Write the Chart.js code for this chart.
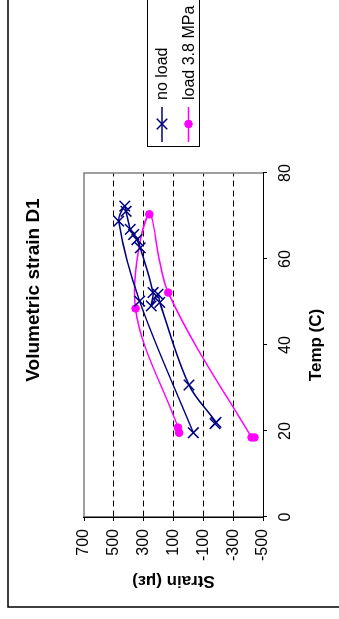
<!DOCTYPE html>
<html>
<head>
<meta charset="utf-8">
<script src="https://cdn.jsdelivr.net/npm/chart.js@4.4.1/dist/chart.umd.min.js"></script>
<style>
  html, body { margin: 0; padding: 0; background: #fff; overflow: hidden; }
  /* the chart is laid out landscape and turned a quarter turn counter-clockwise */
  #frame {
    position: absolute; left: 0; top: 0;
    width: 619px; height: 339px;
    transform-origin: 0 0;
    transform: translateY(619px) rotate(-90deg);
  }
</style>
</head>
<body>
<div id="frame"><canvas id="c" width="619" height="339"></canvas></div>
<script>
// ---- chart content ----
const TITLE = 'Volumetric strain D1';
const X_TITLE = 'Temp (C)';
const Y_TITLE = 'Strain (με)';
const SERIES_NAMES = ['no load', 'load 3.8 MPa'];

// temperature (°C) and volumetric strain (microstrain), in logging order
const noLoadTemp   = [21.7, 22.0, 30.7, 49.9, 51.8, 49.1, 52.2, 62.6, 64.5, 65.7, 66.9, 71.1, 72.3, 68.8, 50.2, 19.6];
const noLoadStrain = [-178, -185, -4, 192, 204, 249, 237, 323, 345, 367, 390, 418, 427, 467, 327, -33];

const loadTemp   = [19.6, 20.8, 48.5, 70.4, 52.2, 18.5, 18.5];
const loadStrain = [62, 70, 354, 262, 135, -423, -443];

// axis ranges / tick steps
const tempTicks   = [0, 20, 40, 60, 80];
const strainTicks = [700, 500, 300, 100, -100, -300, -500];

const FONT = "'Liberation Sans', Arial, Helvetica, sans-serif";
Chart.defaults.font.family = FONT;
Chart.defaults.color = '#000';

const toPoints = (xs, ys) => xs.map((x, i) => ({ x: x, y: ys[i] }));

const tStep = tempTicks[1] - tempTicks[0];
const sStep = strainTicks[0] - strainTicks[1];
const sMax = Math.max(...strainTicks), sMin = Math.min(...strainTicks);

// frame, plot border, title and legend
const decorations = {
  id: 'decorations',
  beforeDatasetsDraw(chart) {
    const { ctx, chartArea: a } = chart;
    ctx.save();
    ctx.strokeStyle = '#808080';
    ctx.lineWidth = 1.5;
    ctx.beginPath();
    ctx.moveTo(a.left, a.top);
    ctx.lineTo(a.right, a.top);
    ctx.lineTo(a.right, a.bottom);
    ctx.stroke();
    ctx.restore();
  },
  afterDraw(chart) {
    const { ctx } = chart;
    ctx.save();
    // outer chart frame
    ctx.strokeStyle = '#000';
    ctx.lineWidth = 1.5;
    ctx.strokeRect(12, 8, 700, 420);

    // title
    ctx.fillStyle = '#000';
    ctx.font = 'bold 19px ' + FONT;
    ctx.textAlign = 'center';
    ctx.textBaseline = 'middle';
    ctx.fillText(TITLE, 329, 34);

    // legend
    ctx.lineWidth = 1;
    ctx.strokeRect(472.5, 147.5, 200, 52);
    ctx.font = '16px ' + FONT;
    ctx.textAlign = 'left';
    chart.data.datasets.forEach((ds, i) => {
      const y = 162 + i * 26.5;
      ctx.strokeStyle = ds.borderColor;
      ctx.lineWidth = ds.borderWidth;
      ctx.beginPath();
      ctx.moveTo(477, y);
      ctx.lineTo(512, y);
      ctx.stroke();
      ctx.fillStyle = ds.pointBackgroundColor;
      ctx.strokeStyle = ds.pointBorderColor;
      ctx.lineWidth = ds.pointBorderWidth;
      Chart.helpers.drawPoint(ctx, {
        pointStyle: ds.pointStyle, radius: ds.pointRadius,
        rotation: 0, borderWidth: ds.pointBorderWidth
      }, 495, y);
      ctx.fillStyle = '#000';
      ctx.fillText(ds.label, 519, y + 1);
    });
    ctx.restore();
  }
};

new Chart(document.getElementById('c'), {
  type: 'scatter',
  data: {
    datasets: [
      {
        label: SERIES_NAMES[0],
        data: toPoints(noLoadTemp, noLoadStrain),
        showLine: true,
        borderColor: '#000080',
        borderWidth: 1.5,
        tension: 0.35,
        pointStyle: 'crossRot',
        pointRadius: 7.5,
        pointBorderWidth: 1.5,
        pointBorderColor: '#000080',
        pointBackgroundColor: '#000080'
      },
      {
        label: SERIES_NAMES[1],
        data: toPoints(loadTemp, loadStrain),
        showLine: true,
        borderColor: '#FF00FF',
        borderWidth: 1.5,
        tension: 0.35,
        pointStyle: 'circle',
        pointRadius: 3.8,
        pointBorderWidth: 1,
        pointBorderColor: '#FF00FF',
        pointBackgroundColor: '#FF00FF'
      }
    ]
  },
  options: {
    responsive: false,
    animation: false,
    devicePixelRatio: 1,
    events: [],
    layout: { padding: { left: 0, top: 84, right: 173, bottom: 0 } },
    plugins: {
      legend: { display: false },
      title: { display: false },
      tooltip: { enabled: false }
    },
    scales: {
      x: {
        type: 'linear',
        position: 'bottom',
        min: Math.min(...tempTicks),
        max: Math.max(...tempTicks),
        afterFit(s) { s.height = 76; },
        ticks: { stepSize: tStep, font: { size: 16 }, padding: 9, maxRotation: 0 },
        grid: { drawOnChartArea: false, drawTicks: true, tickLength: 4, tickColor: '#000', color: '#000' },
        border: { color: '#000', width: 1 },
        title: { display: true, text: X_TITLE, font: { size: 17, weight: 'bold' }, padding: { top: 0, bottom: 12 } }
      },
      y: {
        type: 'linear',
        position: 'left',
        min: sMin,
        max: sMax,
        afterFit(s) { s.width = 102; },
        ticks: { stepSize: sStep, font: { size: 16 }, padding: 8 },
        grid: {
          color: c => (c.tick && (c.tick.value === sMax || c.tick.value === sMin)) ? 'rgba(0,0,0,0)' : '#000',
          lineWidth: 1,
          tickLength: 4,
          tickColor: '#000'
        },
        border: { color: '#000', width: 1.5, dash: [6, 4] },
        title: { display: true, text: Y_TITLE, font: { size: 17, weight: 'bold' }, padding: { top: 28, bottom: 0 } }
      }
    }
  },
  plugins: [decorations]
});
</script>
</body>
</html>
